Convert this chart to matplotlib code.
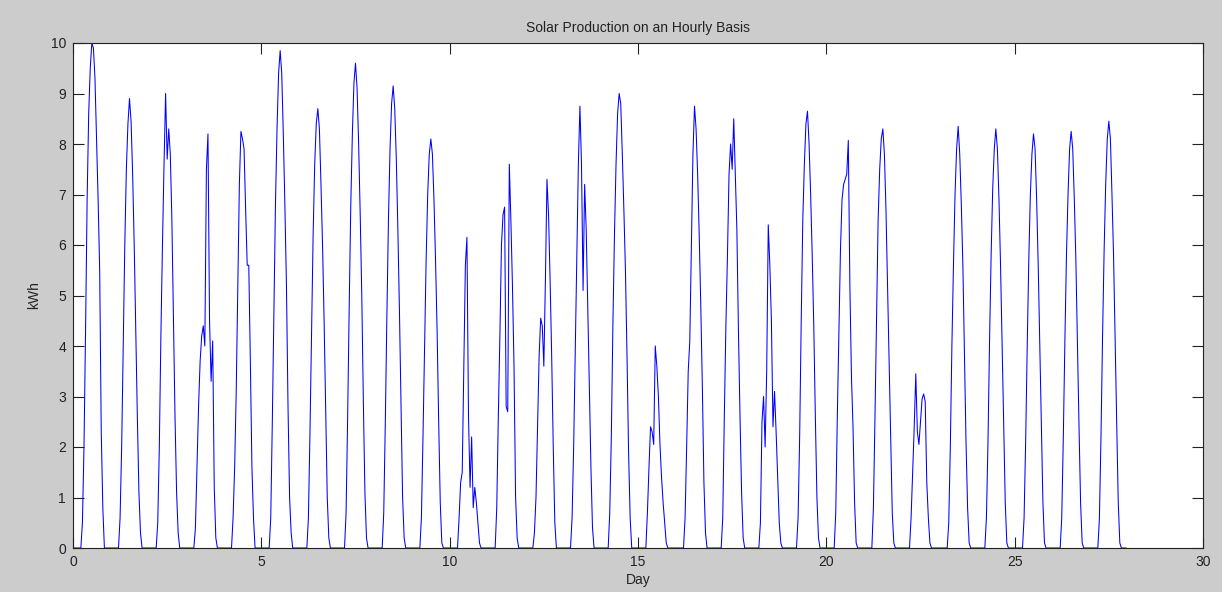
import numpy as np
import matplotlib
matplotlib.use("Agg")
import matplotlib.pyplot as plt

# Hours of the day covered by each daily list (outside these hours output is 0)
day_hours = list(range(5, 21))
n_days = 28

# Hourly kWh readings, hours 5..20, one list per day
d00 = [0, 0.5, 2.0, 4.3, 6.9, 8.6, 9.5, 10.0, 9.9, 9.3, 8.1, 6.9, 5.5, 2.3, 0.8, 0]
d01 = [0, 0.6, 2.0, 4.0, 6.0, 7.5, 8.4, 8.9, 8.45, 7.4, 6.0, 4.3, 2.6, 1.1, 0.3, 0]
d02 = [0, 0.5, 2.0, 4.2, 6.0, 7.6, 9.0, 7.7, 8.3, 7.8, 6.5, 4.5, 2.6, 1.1, 0.3, 0]
d03 = [0, 0.4, 1.6, 2.8, 3.7, 4.2, 4.4, 4.0, 7.5, 8.2, 4.5, 3.3, 4.1, 1.2, 0.2, 0]
d04 = [0, 0.6, 1.6, 3.1, 5.1, 7.2, 8.25, 8.1, 7.9, 6.7, 5.6, 5.6, 3.7, 1.6, 0.6, 0]
d05 = [0, 0.6, 2.5, 4.6, 6.8, 8.3, 9.4, 9.85, 9.4, 8.2, 6.8, 5.2, 2.8, 1.0, 0.3, 0]
d06 = [0, 0.6, 2.3, 4.3, 6.2, 7.6, 8.4, 8.7, 8.3, 7.2, 6.0, 4.5, 2.7, 1.0, 0.2, 0]
d07 = [0, 0.7, 2.6, 4.8, 6.8, 8.2, 9.2, 9.6, 9.1, 8.0, 6.6, 5.0, 2.9, 1.1, 0.2, 0]
d08 = [0, 0.7, 2.5, 4.6, 6.5, 7.9, 8.8, 9.15, 8.7, 7.7, 6.3, 4.7, 2.8, 1.0, 0.2, 0]
d09 = [0, 0.6, 2.2, 4.0, 5.7, 7.0, 7.8, 8.1, 7.8, 6.9, 5.7, 4.3, 2.5, 0.9, 0.1, 0]
d10 = [0, 0.6, 1.3, 1.5, 3.5, 5.6, 6.15, 2.6, 1.2, 2.2, 0.8, 1.2, 0.9, 0.5, 0.1, 0]
d11 = [0, 0.8, 2.6, 4.2, 6.0, 6.6, 6.75, 2.8, 2.7, 7.6, 6.5, 5.2, 3.6, 1.0, 0.2, 0]
d12 = [0, 0.3, 1.0, 2.4, 3.8, 4.55, 4.4, 3.6, 5.3, 7.3, 6.6, 5.3, 3.8, 2.0, 0.5, 0]
d13 = [0, 0.6, 2.0, 3.9, 5.9, 7.6, 8.75, 7.6, 5.1, 7.2, 6.3, 4.8, 3.2, 1.6, 0.4, 0]
d14 = [0, 0.7, 2.2, 4.4, 6.2, 7.6, 8.6, 9.0, 8.8, 7.8, 6.7, 5.5, 3.8, 1.9, 0.6, 0]
d15 = [0, 0.7, 1.6, 2.4, 2.3, 2.05, 4.0, 3.6, 3.0, 2.05, 1.4, 0.9, 0.5, 0.1, 0, 0]
d16 = [0, 0.6, 2.0, 3.5, 4.1, 6.0, 7.8, 8.75, 8.3, 7.4, 6.2, 4.8, 3.2, 1.3, 0.3, 0]
d17 = [0, 0.6, 2.6, 4.4, 5.8, 7.4, 8.0, 7.5, 8.5, 7.4, 6.3, 4.3, 2.6, 1.1, 0.2, 0]
d18 = [0, 0.5, 2.5, 3.0, 2.0, 3.5, 6.4, 5.6, 4.5, 2.4, 3.1, 2.3, 1.4, 0.5, 0.1, 0]
d19 = [0, 0.6, 2.2, 4.5, 6.5, 7.6, 8.4, 8.65, 8.0, 7.0, 5.8, 4.4, 2.6, 1.0, 0.2, 0]
d20 = [0, 0.7, 2.6, 4.2, 5.9, 6.9, 7.2, 7.3, 7.4, 8.07, 5.2, 3.4, 2.4, 0.9, 0.1, 0]
d21 = [0, 0.8, 2.6, 4.6, 6.5, 7.5, 8.1, 8.3, 7.8, 6.7, 5.2, 3.6, 2.1, 0.7, 0.1, 0]
d22 = [0, 0.6, 1.5, 2.4, 3.45, 2.3, 2.05, 2.5, 2.95, 3.05, 2.9, 1.3, 0.6, 0.1, 0, 0]
d23 = [0, 0.5, 2.0, 4.0, 5.6, 7.0, 7.9, 8.35, 7.8, 6.8, 5.6, 3.8, 2.1, 0.8, 0.1, 0]
d24 = [0, 0.6, 2.1, 4.1, 5.8, 7.1, 7.9, 8.3, 7.9, 6.9, 5.6, 4.0, 2.4, 0.9, 0.1, 0]
d25 = [0, 0.6, 2.1, 4.0, 5.7, 7.0, 7.8, 8.2, 7.9, 6.9, 5.6, 4.0, 2.4, 0.9, 0.1, 0]
d26 = [0, 0.6, 2.2, 4.1, 5.8, 7.0, 7.9, 8.25, 7.9, 6.9, 5.7, 4.0, 2.4, 0.9, 0.1, 0]
d27 = [0, 0.6, 2.2, 4.2, 5.9, 7.2, 8.1, 8.45, 8.1, 7.0, 5.8, 4.1, 2.5, 0.9, 0.1, 0]

days = [d00, d01, d02, d03, d04, d05, d06, d07, d08, d09, d10, d11, d12, d13,
        d14, d15, d16, d17, d18, d19, d20, d21, d22, d23, d24, d25, d26, d27]

x_ticks = [0, 5, 10, 15, 20, 25, 30]
y_ticks = list(range(0, 11))

# Assemble hourly series
kwh = np.zeros(n_days * 24)
for d, vals in enumerate(days):
    for h, v in zip(day_hours, vals):
        kwh[d * 24 + h] = v
t = np.arange(n_days * 24) / 24.0

plt.rcParams['font.family'] = ['Liberation Sans', 'DejaVu Sans']
fig = plt.figure(figsize=(12.22, 5.92), dpi=100, facecolor='#cccccc')
ax = fig.add_axes([73 / 1222, 1 - 548 / 592, (1203 - 73) / 1222, (548 - 43) / 592])
ax.set_facecolor('white')
ax.plot(t, kwh, color='#0000ff', linewidth=0.75)

ax.set_xlim(0, 30)
ax.set_ylim(0, 10)
ax.set_xticks(x_ticks)
ax.set_yticks(y_ticks)
ax.tick_params(direction='in', length=8, width=0.8, top=True, right=True,
               labelsize=10, colors='#222222', pad=5)
for s in ax.spines.values():
    s.set_color('#222222')
    s.set_linewidth(0.8)

ax.set_title('Solar Production on an Hourly Basis', fontsize=10, color='#222222', pad=8)
ax.set_xlabel('Day', fontsize=10, color='#222222', labelpad=3)
ax.set_ylabel('kWh', fontsize=10, color='#222222', labelpad=7)

fig.savefig('out.png', dpi=100, facecolor=fig.get_facecolor())
